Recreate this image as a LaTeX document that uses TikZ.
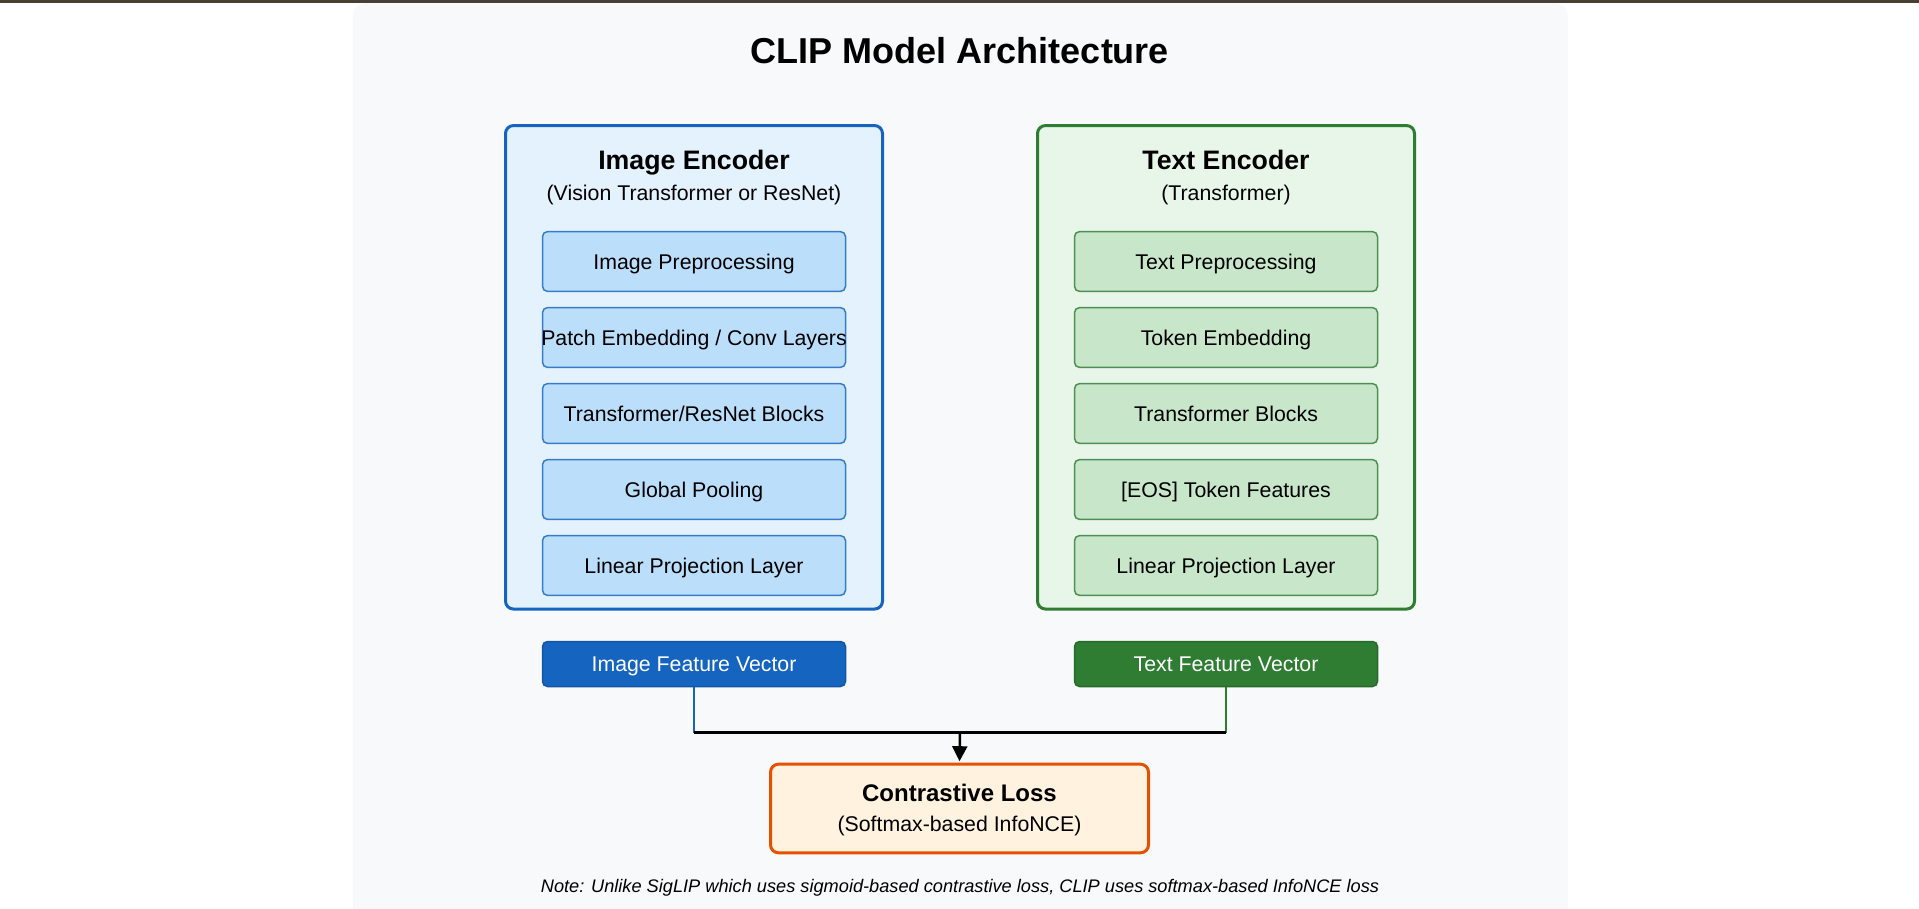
\documentclass[tikz,border=0pt]{standalone}
\usepackage{fontspec}
\setmainfont{Liberation Sans}
\usetikzlibrary{arrows.meta}
\definecolor{topbar}{HTML}{4A3F35}
\definecolor{panel}{HTML}{F8F9FA}
\definecolor{imgblue}{HTML}{1565C0}
\definecolor{imgfill}{HTML}{E3F2FD}
\definecolor{imglayer}{HTML}{BBDEFB}
\definecolor{txtgreen}{HTML}{2E7D32}
\definecolor{txtfill}{HTML}{E8F5E9}
\definecolor{txtlayer}{HTML}{C8E6C9}
\definecolor{lossorange}{HTML}{E65100}
\definecolor{lossfill}{HTML}{FFF3E0}

\begin{document}
\begin{tikzpicture}[x=1pt,y=1pt,
		encoder/.style={draw, line width=3pt, rounded corners=8pt, minimum width=377pt, minimum height=483.5pt, inner sep=0pt},
		layer/.style={draw, line width=1.5pt, rounded corners=5pt, minimum width=303pt, minimum height=59.8pt, inner ysep=0pt, inner xsep=-2pt,
			text height=15.3pt, text depth=0pt, font=\fontsize{21.3}{25}\selectfont},
		vector/.style={layer, minimum height=45pt, text=white},
		head/.style={anchor=base, font=\fontsize{26.7}{32}\selectfont\bfseries},
		sub/.style={anchor=base, font=\fontsize{21.3}{25}\selectfont}]
	\useasboundingbox (0,0) rectangle (1919,-909);
	\fill[topbar] (0,0) rectangle (1919,-3);
	\fill[panel, rounded corners=12pt] (352.5,-3.5) rectangle (1568,-930);
	\node[anchor=base, font=\fontsize{36}{43}\selectfont\bfseries] (title) at (960,-64) {CLIP Model Architecture};
	% image side
	\node[encoder, imgblue, fill=imgfill] (imgenc) at (694,-367.3) {};
	\node[head] (imghead) at (694,-170) {Image Encoder};
	\node[sub] (imgsub) at (694,-201) {(Vision Transformer or ResNet)};
	\foreach \lbl [count=\i] in {Image Preprocessing, Patch Embedding / Conv Layers, Transformer/ResNet Blocks, Global Pooling, Linear Projection Layer}
		\node[layer, draw=imgblue!85, fill=imglayer] (img\i) at (694,{-261.5-76*(\i-1)}) {\lbl};
	% text side
	\node[encoder, txtgreen, fill=txtfill] (txtenc) at (1226,-367.3) {};
	\node[head] (txthead) at (1226,-170) {Text Encoder};
	\node[sub] (txtsub) at (1226,-201) {(Transformer)};
	\foreach \lbl [count=\i] in {Text Preprocessing, Token Embedding, Transformer Blocks, {[EOS] Token Features}, Linear Projection Layer}
		\node[layer, draw=txtgreen!85, fill=txtlayer] (txt\i) at (1226,{-261.5-76*(\i-1)}) {\lbl};
	% outputs and loss
	\node[vector, draw=imgblue!85!black, fill=imgblue] (imgvec) at (694,-664) {Image Feature Vector};
	\node[vector, draw=txtgreen!85!black, fill=txtgreen] (txtvec) at (1226,-664) {Text Feature Vector};
	\node[draw=lossorange, line width=3pt, fill=lossfill, rounded corners=8pt, minimum width=378pt, minimum height=88.6pt] (loss) at (959.5,-808.5) {};
	\node[anchor=base, font=\fontsize{24}{29}\selectfont\bfseries] (losshead) at (959.5,-801.7) {Contrastive Loss};
	\node[sub] (losssub) at (959.5,-831.7) {(Softmax-based InfoNCE)};
	\coordinate (merge) at (960,-732.7);
	\draw[imgblue, line width=2pt] (imgvec.south) -- (imgvec.south |- merge);
	\draw[txtgreen, line width=2pt] (txtvec.south) -- (txtvec.south |- merge);
	\draw[line width=3pt] (imgvec.south |- merge) -- (txtvec.south |- merge);
	\draw[line width=2.5pt, -{Triangle[length=15pt,width=15pt]}, shorten >=1.5pt] (merge) -- (loss.north);
	\node[anchor=base, font=\fontsize{18.2}{22}\selectfont\itshape] (note) at (960,-892.3) {Note: Unlike SigLIP which uses sigmoid-based contrastive loss, CLIP uses softmax-based InfoNCE loss};
\end{tikzpicture}
\end{document}
